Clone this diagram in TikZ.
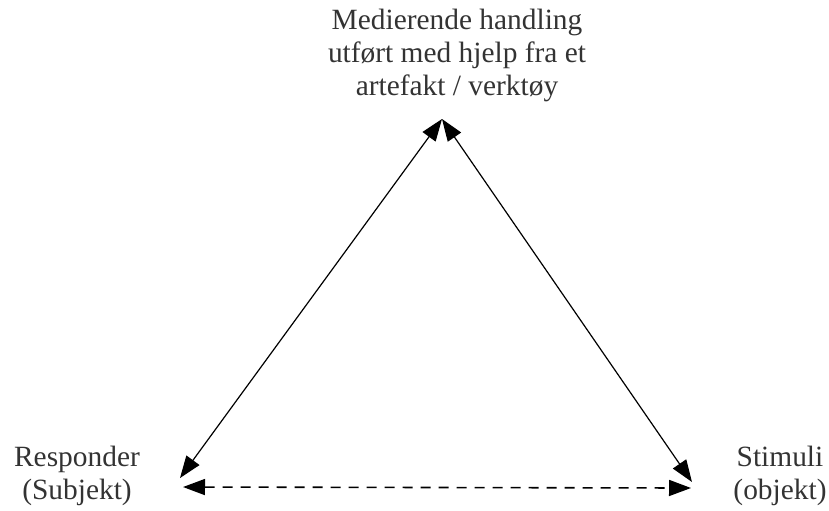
\documentclass[tikz,border=0pt]{standalone}
\usepackage{fontspec}
\setmainfont{Liberation Serif}
\usetikzlibrary{arrows.meta,positioning,calc}

\begin{document}
\begin{tikzpicture}[<->, >={Triangle[length=11pt,width=8pt]}, x=0.5pt, y=-0.5pt, thick]
\tikzstyle{every node}=[align=center,font=\fontsize{14.7}{16.5}\selectfont,text=black!80]
\useasboundingbox (0,0) rectangle (829,510);
\node (M) at (457,55) {Medierende handling\\utført med hjelp fra et\\artefakt / verktøy};
\node (R) at (77,476) {Responder\\(Subjekt)};
\node (S) at (780,476) {Stimuli\\(objekt)};
\coordinate (top) at (442,119);
\coordinate (left) at (180,478);
\coordinate (right) at (692,482);
\coordinate (leftd) at (183,487);
\coordinate (rightd) at (691,488);
\path
(top) edge[semithick] (left)
(top) edge[semithick] (right)
(leftd) edge[dashed, dash pattern=on 5pt off 4pt] (rightd);
\end{tikzpicture}
\end{document}
